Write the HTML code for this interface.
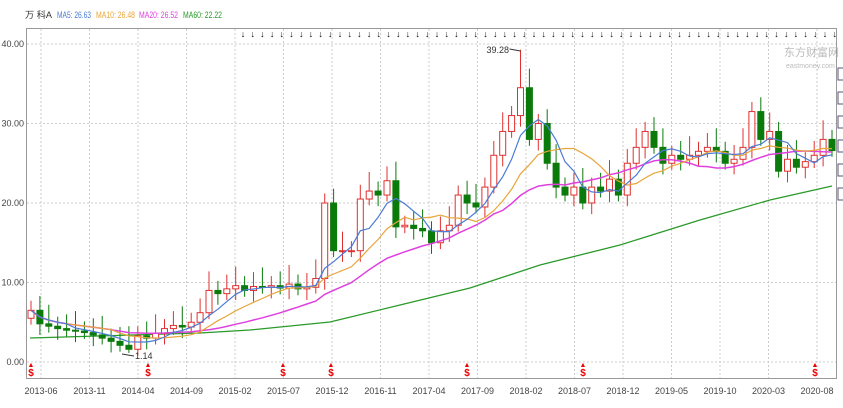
<!DOCTYPE html><html><head><meta charset="utf-8"><style>
body{margin:0;background:#fff;width:843px;height:403px;overflow:hidden;font-family:"Liberation Sans","Noto Sans CJK SC",sans-serif}
</style></head><body>
<svg id="s" width="843" height="403" xmlns="http://www.w3.org/2000/svg" font-family="Liberation Sans, Noto Sans CJK SC, sans-serif">
<text x="25" y="18" font-size="9" fill="#333" textLength="27" lengthAdjust="spacingAndGlyphs">万 科A</text>
<text x="57" y="18" font-size="9" fill="#4a7bd6" textLength="34" lengthAdjust="spacingAndGlyphs">MA5: 26.63</text>
<text x="96" y="18" font-size="9" fill="#e8a53a" textLength="39" lengthAdjust="spacingAndGlyphs">MA10: 26.48</text>
<text x="139" y="18" font-size="9" fill="#e040e0" textLength="39" lengthAdjust="spacingAndGlyphs">MA20: 26.52</text>
<text x="183" y="18" font-size="9" fill="#2a9a2a" textLength="39" lengthAdjust="spacingAndGlyphs">MA60: 22.22</text>
<rect x="26.5" y="28.5" width="810" height="350" fill="none" stroke="#999"/>
<g id="g"></g>
</svg>
<script>
const g=document.getElementById('g');let h='';
const Y=v=>362-v*7.95;
[0,10,20,30,40].forEach(v=>{h+=`<line x1="27" x2="836" y1="${Y(v)}" y2="${Y(v)}" stroke="#ccc" stroke-dasharray="2,2"/><text x="24" y="${Y(v)+3}" font-size="9" fill="#444" text-anchor="end">${v.toFixed(2)}</text>`});
const labs=['2013-06','2013-11','2014-04','2014-09','2015-02','2015-07','2015-12','2016-11','2017-04','2017-09','2018-02','2018-07','2018-12','2019-05','2019-10','2020-03','2020-08'];
labs.forEach((l,i)=>{const x=41+i*48.5;h+=`<line x1="${x}" x2="${x}" y1="29" y2="378" stroke="#ccc" stroke-dasharray="2,2"/><text x="${x}" y="394" font-size="9" fill="#444" text-anchor="middle">${l}</text>`});
for(let x=243;x<836;x+=9.7)h+=`<text x="${x}" y="37" font-size="9" fill="#000" text-anchor="middle">↓</text>`;
const c=[6.5,4.8,4.5,4.2,4.0,3.9,3.7,3.4,3.0,2.6,2.1,1.6,3.3,3.0,3.6,4.2,4.6,4.4,5.0,6.2,9.0,8.6,9.2,9.6,9.0,9.5,9.4,9.6,9.3,9.8,9.2,9.4,10.5,20.0,14,14,14,20.5,21.5,21.0,22.8,17,17.2,16.8,16.5,15,16.5,17.2,21,20,19.5,22,26,29,31,34.5,28,30,25,22,21,22,20,22,21.5,23,21,25,27,29,27,25,26,25.5,26,26.5,27,26.5,25,25.5,27,31.5,28,29,24,25.5,24.5,25.2,26,28,26.6];
const n=c.length,dx=(832-31)/(n-1),X=i=>31+i*dx;
function ma(k){let p=[];for(let i=0;i<n;i++){let s=0,m=0;for(let j=Math.max(0,i-k+1);j<=i;j++){s+=c[j];m++}p.push(X(i).toFixed(1)+','+Y(s/m).toFixed(1))}return p.join(' ')}
h+=`<polyline fill="none" stroke="#2a9a2a" stroke-width="1.3" points="30,338 200,333 250,330 330,322 400,305 470,288 540,265 620,245 700,220 770,200 832,186"/>`;
for(let i=0;i<n;i++){const o=i==0?5.5:c[i-1],cl=c[i];let hi=Math.max(o,cl)+1.2+(i%3)*0.6,lo=Math.min(o,cl)-0.8-(i%2)*0.6;if(i==55)hi=39.28;if(i==11)lo=1.14;const x=X(i),up=cl>=o,col=up?'#e03030':'#0a7a0a';
h+=`<line x1="${x}" x2="${x}" y1="${Y(hi)}" y2="${Y(lo)}" stroke="${col}"/>`;
const t=Y(Math.max(o,cl)),b=Y(Math.min(o,cl));h+=`<rect x="${x-3}" y="${t}" width="6" height="${Math.max(1,b-t)}" fill="${up?'#fff':'#0a7a0a'}" stroke="${col}"/>`}
h+=`<polyline fill="none" stroke="#e040e0" stroke-width="1.5" points="${ma(20)}"/><polyline fill="none" stroke="#e8a53a" stroke-width="1.2" points="${ma(10)}"/><polyline fill="none" stroke="#4a7bd6" stroke-width="1.2" points="${ma(5)}"/>`;
const px=X(55);
h+=`<text x="${px-34}" y="53" font-size="9" fill="#333">39.28</text><line x1="${px-11}" y1="49" x2="${px}" y2="51" stroke="#333"/>`;
h+=`<text x="135" y="359" font-size="9" fill="#333">1.14</text><line x1="122" y1="354" x2="134" y2="356" stroke="#333"/>`;
[31,148,283,331,467,583,815].forEach(x=>h+=`<text x="${x}" y="376" font-size="10" fill="#e00" text-anchor="middle" font-weight="bold">$</text><text x="${x}" y="367" font-size="7" fill="#e00" text-anchor="middle">▲</text>`);
h+=`<text x="784" y="56" font-size="11" fill="#bbb">东方财富网</text><text x="786" y="68" font-size="7" fill="#bbb">eastmoney.com</text>`;
for(let y=68;y<200;y+=24)h+=`<rect x="838" y="${y}" width="8" height="12" fill="none" stroke="#557"/>`;
g.innerHTML=h;
</script>
</body></html>
